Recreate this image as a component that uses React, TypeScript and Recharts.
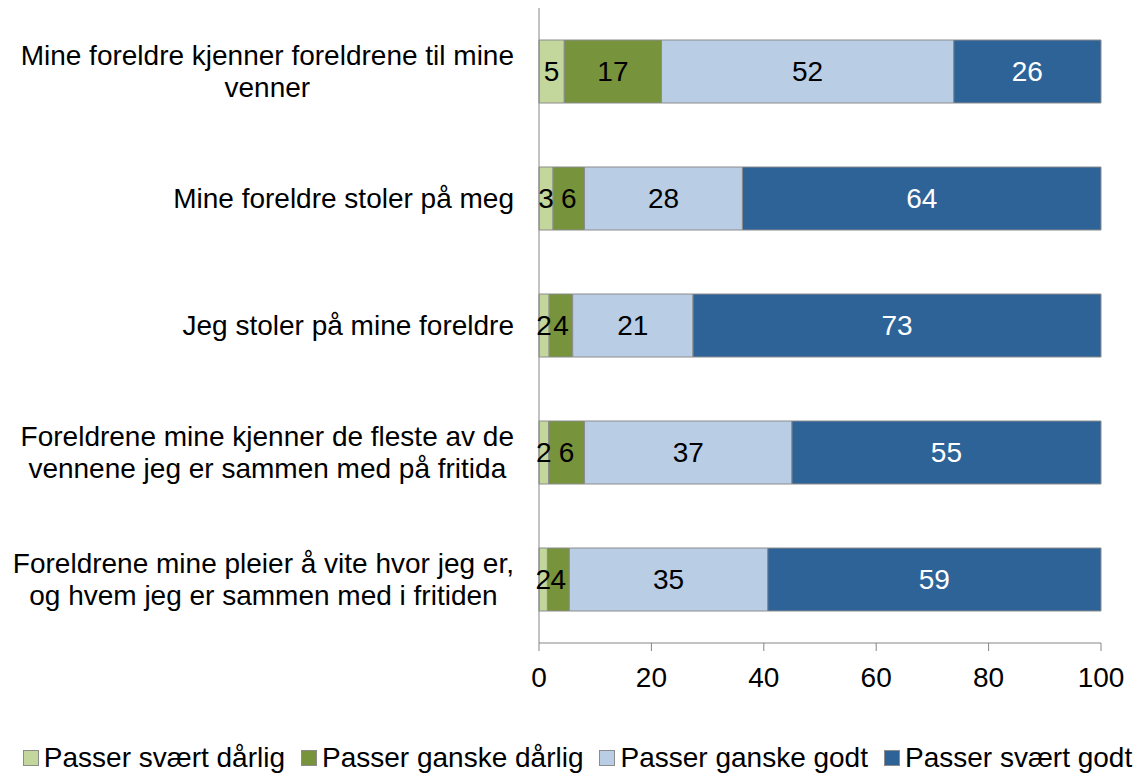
import { BarChart, Bar, XAxis, YAxis, Legend, LabelList } from "recharts"

const categories = [
  "Mine foreldre kjenner foreldrene til mine\nvenner",
  "Mine foreldre stoler på meg",
  "Jeg stoler på mine foreldre",
  "Foreldrene mine kjenner de fleste av de\nvennene jeg er sammen med på fritida",
  "Foreldrene mine pleier å vite hvor jeg er,\nog hvem jeg er sammen med i fritiden",
]

const svaertDarlig = [4.5, 2.5, 1.8, 1.7, 1.5]
const ganskeDarlig = [17.3, 5.6, 4.2, 6.4, 3.9]
const ganskeGodt = [52.0, 28.1, 21.4, 36.9, 35.3]
const svaertGodt = [26.2, 63.8, 72.6, 55.0, 59.3]

const xTicks = [0, 20, 40, 60, 80, 100]

const series = [
  { key: "svaertDarlig", label: "Passer svært dårlig", color: "#c3d69b", text: "#000" },
  { key: "ganskeDarlig", label: "Passer ganske dårlig", color: "#77933c", text: "#000" },
  { key: "ganskeGodt", label: "Passer ganske godt", color: "#b9cde5", text: "#000" },
  { key: "svaertGodt", label: "Passer svært godt", color: "#2e6398", text: "#fff" },
]

const data = categories.map((name, i) => ({
  name,
  svaertDarlig: svaertDarlig[i],
  ganskeDarlig: ganskeDarlig[i],
  ganskeGodt: ganskeGodt[i],
  svaertGodt: svaertGodt[i],
}))

const FONT = '"Liberation Sans", Arial, sans-serif'
const FONT_SIZE = 28
const AXIS = "#868686"

const measureCtx = document.createElement("canvas").getContext("2d")

function textWidth(s: string) {
  if (!measureCtx) return s.length * FONT_SIZE * 0.5
  measureCtx.font = `${FONT_SIZE}px "Liberation Sans"`
  return measureCtx.measureText(s).width
}

// Excel style: lines centred on each other, block right-aligned to the axis
function CategoryTick({ x, y, payload }: any) {
  const lines = String(payload.value).split("\n")
  const maxW = Math.max(...lines.map(textWidth))
  const cx = x - maxW / 2
  const lineH = 32
  const top = y - ((lines.length - 1) * lineH) / 2
  return (
    <text textAnchor="middle" fill="#000" fontSize={FONT_SIZE} fontFamily={FONT}>
      {lines.map((l, i) => (
        <tspan key={i} x={cx} y={top + i * lineH} dy="0.35em">
          {l}
        </tspan>
      ))}
    </text>
  )
}

function LegendContent() {
  return (
    <div
      style={{
        display: "flex",
        justifyContent: "center",
        alignItems: "center",
        gap: 16,
        height: 40,
        paddingTop: 6,
        paddingLeft: 14,
        boxSizing: "border-box",
        fontFamily: FONT,
        fontSize: FONT_SIZE,
        color: "#000",
        whiteSpace: "nowrap",
      }}
    >
      {series.map(s => (
        <span key={s.key} style={{ display: "flex", alignItems: "center" }}>
          <span
            style={{
              width: 14,
              height: 14,
              background: s.color,
              border: "1px solid #8c8c8c",
              marginRight: 5,
              display: "inline-block",
            }}
          />
          {s.label}
        </span>
      ))}
    </div>
  )
}

export default function App() {
  return (
    <div style={{ position: "absolute", left: 0, top: 0, background: "#fff" }}>
      <BarChart
        width={1141}
        height={775}
        data={data}
        layout="vertical"
        margin={{ top: 8, right: 40, bottom: 0, left: 0 }}
        barSize={63}
      >
        <XAxis
          type="number"
          domain={[0, 100]}
          ticks={xTicks}
          height={92}
          tickSize={8}
          tickMargin={16}
          axisLine={{ stroke: AXIS }}
          tickLine={{ stroke: AXIS }}
          tick={{ fill: "#000", fontSize: FONT_SIZE, fontFamily: FONT }}
        />
        <YAxis
          type="category"
          dataKey="name"
          width={539}
          tickSize={0}
          tickMargin={25}
          tickLine={false}
          axisLine={{ stroke: AXIS }}
          tick={<CategoryTick />}
          interval={0}
        />
        <Legend
          verticalAlign="bottom"
          content={<LegendContent />}
          wrapperStyle={{ left: 0, width: 1141, height: 40 }}
        />
        {series.map(s => (
          <Bar
            key={s.key}
            dataKey={s.key}
            name={s.label}
            stackId="a"
            fill={s.color}
            stroke="#8c8c8c"
            strokeWidth={1}
            isAnimationActive={false}
          >
            <LabelList
              dataKey={s.key}
              position="center"
              formatter={(v: any) => Math.round(Number(v))}
              fill={s.text}
              fontSize={FONT_SIZE}
              fontFamily={FONT}
            />
          </Bar>
        ))}
      </BarChart>
    </div>
  )
}
